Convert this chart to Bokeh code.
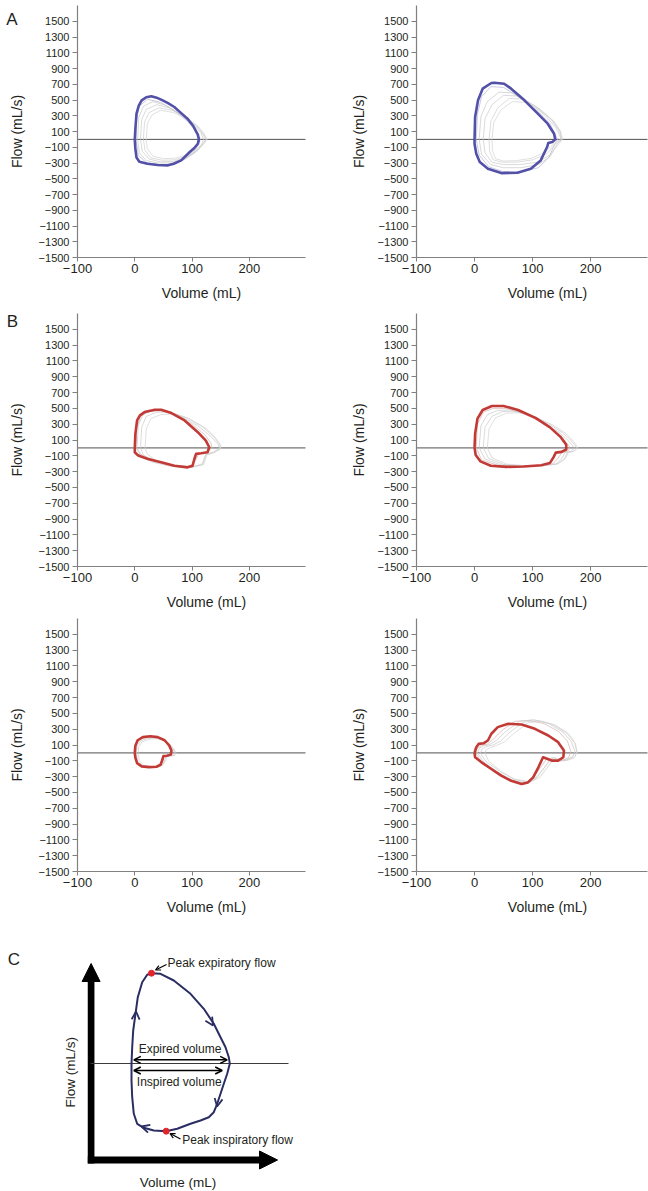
from bokeh.plotting import figure
from bokeh.models import FixedTicker, Label, Arrow, NormalHead, OpenHead, LinearAxis
from bokeh.layouts import column, row
from bokeh.embed import file_html
from bokeh.resources import INLINE
import math

FONT = "Liberation Sans"
TXT = "#231f20"
AXC = "#808080"

# ---------------- tick labels / texts ----------------
x_ticks = [-100, 0, 100, 200]
x_tick_labels = ["\u2212100", "0", "100", "200"]
y_ticks = [1500, 1300, 1100, 900, 700, 500, 300, 100, -100, -300, -500, -700, -900, -1100, -1300, -1500]
y_tick_labels = ["1500", "1300", "1100", "900", "700", "500", "300", "100", "\u2212100", "\u2212300",
                 "\u2212500", "\u2212700", "\u2212900", "\u22121100", "\u22121300", "\u22121500"]
x_label = "Volume (mL)"
y_label = "Flow (mL/s)"

X_RANGE = (-100, 298)
Y_RANGE = (-1500, 1700)

BLUE = "#5350a8"
RED = "#c23a36"

# ---------------- Panel A left ----------------
a1_vol = [0, 1, 3, 7, 12, 20, 29, 38, 46, 58, 69, 80, 92, 102, 110, 112, 110, 104, 96, 81, 68, 58, 40, 22, 8, 3, 1, 0]
a1_flow = [0, 130, 326, 430, 496, 535, 547, 530, 504, 460, 411, 340, 263, 170, 60, 0, -55, -110, -161, -267, -310, -330, -325, -310, -285, -230, -120, 0]
a1_grey_vol = [
    [2, 3, 8, 22, 45, 70, 92, 106, 114, 112, 102, 85, 62, 40, 20, 6, 2],
    [5, 7, 15, 32, 55, 80, 100, 115, 120, 117, 105, 88, 65, 40, 20, 8, 5],
    [10, 12, 20, 38, 60, 85, 105, 118, 124, 120, 108, 90, 68, 45, 25, 13, 10],
    [15, 17, 25, 42, 65, 90, 110, 120, 126, 122, 110, 92, 70, 48, 28, 18, 15],
    [20, 22, 30, 45, 68, 92, 112, 122, 125, 120, 108, 90, 70, 50, 32, 22, 20],
]
a1_grey_flow = [
    [0, 260, 420, 510, 470, 360, 230, 110, 0, -60, -170, -260, -320, -320, -295, -200, 0],
    [0, 280, 420, 480, 430, 320, 200, 90, 0, -60, -170, -250, -300, -300, -270, -170, 0],
    [0, 250, 380, 440, 400, 300, 180, 80, 0, -50, -150, -230, -280, -285, -250, -150, 0],
    [0, 220, 340, 400, 370, 280, 170, 70, 0, -45, -140, -210, -260, -265, -235, -140, 0],
    [0, 200, 310, 370, 340, 260, 150, 60, 0, -40, -130, -200, -240, -245, -215, -120, 0],
]

# ---------------- Panel A right ----------------
a2_vol = [0, 1, 6, 14, 29, 34, 51, 63, 86, 109, 126, 137, 139, 134, 127, 125, 114, 97, 74, 46, 23, 9, 3, 0, 0]
a2_flow = [0, 284, 496, 644, 716, 720, 707, 644, 496, 326, 199, 72, 0, -34, -47, -97, -267, -373, -424, -428, -373, -288, -182, -55, 0]
a2_grey_vol = [
    [3, 5, 12, 28, 50, 80, 110, 130, 143, 138, 128, 110, 80, 50, 25, 8, 3],
    [8, 11, 22, 42, 65, 95, 122, 140, 150, 142, 130, 110, 80, 50, 28, 12, 8],
    [15, 18, 30, 50, 75, 105, 130, 145, 152, 145, 130, 108, 78, 50, 30, 18, 15],
    [25, 28, 40, 60, 85, 112, 135, 148, 150, 140, 125, 100, 72, 48, 32, 26, 25],
    [30, 33, 45, 65, 90, 115, 138, 149, 148, 138, 122, 98, 72, 50, 36, 31, 30],
]
a2_grey_flow = [
    [0, 320, 540, 670, 660, 520, 350, 200, 0, -60, -230, -360, -410, -410, -350, -200, 0],
    [0, 290, 480, 600, 590, 460, 300, 150, 0, -60, -220, -320, -360, -360, -320, -190, 0],
    [0, 260, 440, 560, 550, 420, 270, 120, 0, -55, -200, -290, -320, -320, -290, -170, 0],
    [0, 230, 400, 520, 510, 390, 240, 100, 0, -50, -180, -260, -290, -290, -260, -150, 0],
    [0, 210, 370, 480, 470, 360, 220, 90, 0, -45, -160, -240, -270, -275, -245, -140, 0],
]

# ---------------- Panel B (top left) ----------------
b1_vol = [0, 1, 4, 9, 17, 35, 46, 64, 87, 110, 124, 130, 127, 116, 107, 104, 101, 92, 69, 46, 23, 6, 0, 0]
b1_flow = [0, 178, 347, 411, 453, 483, 483, 441, 347, 199, 93, 8, -55, -68, -76, -140, -225, -246, -225, -182, -140, -97, -55, 0]
b1_grey_vol = [
    [2, 3, 10, 25, 45, 70, 100, 122, 133, 135, 125, 112, 106, 95, 70, 40, 12, 2],
    [4, 6, 14, 30, 52, 80, 110, 132, 145, 148, 138, 124, 118, 100, 65, 30, 10, 4],
    [10, 12, 20, 38, 60, 88, 118, 138, 148, 150, 140, 126, 120, 100, 68, 35, 15, 10],
    [18, 20, 28, 45, 68, 95, 124, 142, 150, 150, 138, 124, 118, 96, 65, 38, 22, 18],
]
b1_grey_flow = [
    [0, 240, 400, 460, 470, 420, 300, 170, 60, 0, -55, -70, -160, -235, -220, -170, -90, 0],
    [0, 280, 420, 470, 470, 400, 280, 150, 50, 0, -50, -80, -200, -245, -235, -180, -100, 0],
    [0, 260, 400, 450, 455, 390, 270, 140, 45, -5, -55, -85, -210, -245, -235, -175, -90, 0],
    [0, 240, 370, 420, 430, 370, 250, 120, 35, -10, -60, -90, -215, -245, -230, -165, -80, 0],
]

# ---------------- Panel B (top right) ----------------
b2_vol = [0, 1, 5, 14, 30, 50, 75, 105, 130, 148, 158, 158, 150, 140, 136, 130, 115, 85, 55, 28, 10, 2, 0]
b2_flow = [0, 180, 370, 480, 530, 530, 480, 380, 260, 140, 40, -20, -50, -60, -120, -190, -220, -235, -240, -225, -170, -90, 0]
b2_grey_vol = [
    [3, 5, 15, 32, 55, 82, 112, 138, 155, 165, 160, 150, 144, 135, 110, 75, 40, 12, 3],
    [8, 11, 22, 40, 62, 90, 120, 145, 162, 172, 166, 156, 150, 140, 115, 80, 45, 18, 8],
    [15, 18, 30, 48, 70, 98, 128, 152, 168, 176, 170, 160, 154, 142, 118, 85, 50, 24, 15],
    [22, 25, 36, 55, 78, 105, 135, 158, 172, 178, 172, 162, 156, 144, 120, 88, 55, 30, 22],
]
b2_grey_flow = [
    [0, 300, 450, 500, 500, 440, 340, 220, 100, 0, -45, -60, -130, -200, -225, -235, -220, -150, 0],
    [0, 280, 420, 475, 480, 420, 320, 200, 90, 0, -45, -60, -140, -205, -225, -232, -215, -140, 0],
    [0, 260, 400, 460, 465, 405, 305, 190, 80, 0, -45, -60, -145, -205, -225, -230, -210, -130, 0],
    [0, 240, 380, 440, 445, 390, 290, 180, 70, 0, -40, -55, -140, -200, -220, -225, -205, -125, 0],
]

# ---------------- Panel B (bottom left) ----------------
b3_vol = [0, 1, 5, 14, 27, 40, 52, 60, 64, 63, 56, 50, 48, 45, 38, 25, 12, 4, 1, 0]
b3_flow = [0, 90, 160, 200, 210, 200, 160, 95, 30, -20, -35, -40, -90, -150, -175, -180, -170, -130, -60, 0]
b3_grey_vol = [
    [1, 2, 8, 18, 32, 45, 56, 63, 66, 64, 57, 51, 49, 46, 38, 25, 12, 3, 1],
    [3, 4, 10, 22, 35, 48, 58, 66, 70, 68, 60, 54, 52, 48, 40, 27, 14, 5, 3],
    [6, 7, 13, 25, 38, 51, 61, 68, 72, 70, 62, 56, 54, 49, 40, 28, 16, 8, 6],
]
b3_grey_flow = [
    [0, 100, 165, 195, 200, 180, 130, 65, 0, -25, -38, -42, -95, -150, -172, -178, -168, -120, 0],
    [0, 90, 150, 185, 190, 170, 120, 60, 0, -30, -40, -45, -100, -155, -175, -178, -165, -110, 0],
    [0, 80, 140, 175, 180, 160, 110, 50, 0, -30, -40, -45, -100, -150, -170, -172, -160, -100, 0],
]

# ---------------- Panel B (bottom right) ----------------
b4_vol = [0, 3, 7, 16, 23, 29, 40, 58, 81, 104, 127, 144, 154, 153, 144, 133, 118, 110, 101, 92, 81, 63, 46, 29, 12, 1, 0]
b4_flow = [0, 72, 114, 123, 157, 242, 326, 369, 360, 305, 220, 136, 30, -55, -97, -97, -55, -182, -309, -373, -394, -352, -288, -203, -119, -55, 0]
b4_grey_vol = [
    [2, 5, 12, 22, 32, 48, 70, 95, 120, 145, 160, 166, 162, 150, 135, 125, 112, 100, 85, 60, 35, 12, 2],
    [5, 8, 15, 26, 38, 55, 78, 102, 128, 152, 167, 173, 168, 155, 142, 132, 120, 106, 90, 65, 40, 16, 5],
    [10, 13, 20, 32, 45, 62, 85, 110, 135, 158, 172, 177, 172, 160, 148, 138, 126, 112, 95, 70, 45, 20, 10],
    [18, 20, 28, 38, 52, 70, 92, 116, 140, 162, 174, 176, 168, 156, 145, 134, 122, 108, 92, 68, 45, 24, 18],
]
b4_grey_flow = [
    [0, 60, 95, 110, 170, 290, 400, 410, 370, 270, 150, 20, -60, -100, -100, -70, -200, -330, -390, -350, -250, -120, 0],
    [0, 55, 90, 105, 160, 280, 400, 420, 370, 265, 140, 15, -60, -100, -95, -65, -190, -320, -385, -345, -245, -115, 0],
    [0, 50, 80, 100, 150, 270, 390, 410, 360, 255, 130, 10, -60, -95, -90, -60, -180, -310, -375, -340, -240, -110, 0],
    [0, 40, 70, 95, 140, 260, 380, 400, 350, 245, 120, 0, -55, -85, -80, -55, -170, -300, -360, -330, -230, -100, 0],
]

# ---------------- Panel C schematic (arbitrary units) ----------------
schem_vol = [151, 160, 173.3, 190, 203.3, 213.3, 220, 225, 228.3, 229.3, 226.7, 223.3, 220, 216.7, 213.3, 208.3,
             200, 190, 176.7, 165.7, 153.3, 143.3, 136.7, 133.3, 131.7, 131, 131, 131.7, 132.7, 135, 137.3, 141.7, 146.7, 151]
schem_flow = [218.3, 217.7, 211, 197.7, 182.7, 167.7, 154.3, 144.3, 134.3, 127.7, 117.7, 107.7, 97.7, 87.7, 79.3, 74.3,
              71, 67.7, 62.7, 60.3, 61, 63.7, 67.7, 77.7, 94.3, 111, 127.7, 144.3, 161, 177.7, 194.3, 209.3, 216.7, 218.3]
schem_peak_vol = [151, 165.7]
schem_peak_flow = [218.3, 60.3]
schem_zero = 128
schem_texts = ["Peak expiratory flow", "Peak inspiratory flow", "Expired volume", "Inspired volume"]


def make_panel(w, h, box, ystand, mv, mf, gv, gf, mcol, gcols, xlab_cx, letter=None, letter_px=None):
    # box = plot-area (left, top, right, bottom) in figure pixels; the frame covers the whole figure
    left, top, right, bottom = box
    sx = (X_RANGE[1] - X_RANGE[0]) / (right - left)
    sy = (Y_RANGE[1] - Y_RANGE[0]) / (bottom - top)
    xr = (X_RANGE[0] - left * sx, X_RANGE[1] + (w - right) * sx)
    yr = (Y_RANGE[0] - (h - bottom) * sy, Y_RANGE[1] + top * sy)

    def to_data(px, py):
        return (xr[0] + px * sx, yr[1] - py * sy)

    p = figure(width=w, height=h, x_range=xr, y_range=yr, output_backend="svg", toolbar_location=None,
               min_border=0, x_axis_location=None, y_axis_location=None)
    p.outline_line_color = None
    p.xgrid.visible = False
    p.ygrid.visible = False
    p.background_fill_color = "white"
    p.border_fill_color = "white"

    xax = LinearAxis(fixed_location=Y_RANGE[0], bounds=X_RANGE, ticker=FixedTicker(ticks=x_ticks),
                     major_label_overrides=dict(zip(x_ticks, x_tick_labels)))
    yax = LinearAxis(fixed_location=X_RANGE[0], bounds=Y_RANGE, ticker=FixedTicker(ticks=y_ticks),
                     major_label_overrides=dict(zip(y_ticks, y_tick_labels)))
    for ax in (xax, yax):
        ax.axis_line_color = AXC
        ax.axis_line_width = 1.2
        ax.major_tick_line_color = AXC
        ax.major_tick_in = 0
        ax.minor_tick_line_color = None
        ax.major_label_text_font = FONT
        ax.major_label_text_color = TXT
    xax.major_tick_out = 4
    xax.major_label_standoff = 2
    xax.major_label_text_font_size = "13px"
    yax.major_tick_out = 5
    yax.major_label_standoff = 3
    yax.major_label_text_font_size = "11px"
    yax.axis_label = y_label
    yax.axis_label_text_font = FONT
    yax.axis_label_text_font_size = "14px"
    yax.axis_label_text_font_style = "normal"
    yax.axis_label_text_color = TXT
    yax.axis_label_standoff = ystand
    p.add_layout(xax, "below")
    p.add_layout(yax, "left")

    # zero-flow reference line across the plot area
    p.line(x=list(X_RANGE), y=[0, 0], line_color="#505050", line_width=1)
    p.multi_line(xs=gv, ys=gf, line_color=gcols, line_width=0.8, line_alpha=0.9)
    p.line(mv, mf, line_color=mcol, line_width=2.6, line_join="round")

    lx, ly = to_data(xlab_cx, bottom + 35)
    p.add_layout(Label(x=lx, y=ly, text=x_label, text_font=FONT, text_font_size="14px", text_color=TXT,
                       text_align="center", text_baseline="middle"))
    if letter is not None:
        tx, ty = to_data(*letter_px)
        p.add_layout(Label(x=tx, y=ty, text=letter, text_font=FONT, text_font_size="17px", text_color=TXT,
                           text_align="center", text_baseline="middle"))
    return p


grey_a = ["#b6b4d8", "#c8c8c8", "#cccccc", "#d0d0d0", "#d4d4d4"]
grey_b = ["#d8b4b4", "#c8c8c8", "#cccccc", "#d2d2d2"]
grey_b3 = ["#d8b4b4", "#c8c8c8", "#d0d0d0"]

pA1 = make_panel(324, 308, (77, 5, 305, 257), 11, a1_vol, a1_flow, a1_grey_vol, a1_grey_flow, BLUE, grey_a, 201, "A", (11.5, 19))
pA2 = make_panel(324, 308, (92, 5, 323, 257), 8, a2_vol, a2_flow, a2_grey_vol, a2_grey_flow, BLUE, grey_a, 223)
pB1 = make_panel(324, 305, (77, 5, 305, 258), 11, b1_vol, b1_flow, b1_grey_vol, b1_grey_flow, RED, grey_b, 206, "B", (12, 13))
pB2 = make_panel(324, 305, (92, 5, 323, 258), 8, b2_vol, b2_flow, b2_grey_vol, b2_grey_flow, RED, grey_b, 223)
pB3 = make_panel(324, 305, (77, 5, 305, 258), 11, b3_vol, b3_flow, b3_grey_vol, b3_grey_flow, RED, grey_b3, 206)
pB4 = make_panel(324, 305, (92, 5, 323, 258), 8, b4_vol, b4_flow, b4_grey_vol, b4_grey_flow, RED, grey_b, 223)

# ---------------- Panel C ----------------
NAVY = "#2a2e62"
c = figure(width=648, height=273, x_range=(0, 648), y_range=(0, 273), output_backend="svg",
           toolbar_location=None, min_border=0, x_axis_location=None, y_axis_location=None)
c.outline_line_color = None
c.xgrid.visible = False
c.ygrid.visible = False
# thick schematic axes
c.segment(x0=[90.6], y0=[28], x1=[90.6], y1=[212], line_color="black", line_width=6.7)
c.segment(x0=[87.3], y0=[31.5], x1=[261], y1=[31.5], line_color="black", line_width=7)
c.add_layout(Arrow(x_start=90.6, y_start=218, x_end=90.6, y_end=228, line_alpha=0,
                   end=NormalHead(size=18, fill_color="black", line_color="black", line_width=1)))
c.add_layout(Arrow(x_start=266, y_start=31.5, x_end=277, y_end=31.5, line_alpha=0,
                   end=NormalHead(size=18, fill_color="black", line_color="black", line_width=1)))
c.segment(x0=[90], y0=[schem_zero], x1=[288], y1=[schem_zero], line_color="#3a3a3a", line_width=1)
c.line(schem_vol, schem_flow, line_color=NAVY, line_width=2, line_join="round")
# direction chevrons
for (xs, ys, xe, ye) in [(135, 170, 135.6, 180), (207.5, 174, 212.5, 166), (218.5, 95, 216.6, 85), (151, 62, 141, 65)]:
    c.add_layout(Arrow(x_start=xs, y_start=ys, x_end=xe, y_end=ye, line_alpha=0,
                       end=OpenHead(size=8, line_color=NAVY, line_width=1.8)))
# volume double arrows
c.add_layout(Arrow(x_start=133.3, y_start=131.7, x_end=226.7, y_end=131.7, line_color="black", line_width=1.5,
                   start=OpenHead(size=7, line_color="black", line_width=1.5),
                   end=OpenHead(size=7, line_color="black", line_width=1.5)))
c.add_layout(Arrow(x_start=133.3, y_start=121, x_end=221.7, y_end=121, line_color="black", line_width=1.5,
                   start=OpenHead(size=7, line_color="black", line_width=1.5),
                   end=OpenHead(size=7, line_color="black", line_width=1.5)))
# pointer arrows
c.add_layout(Arrow(x_start=166, y_start=227, x_end=155, y_end=221.5, line_color="black", line_width=1.2,
                   end=OpenHead(size=5, line_color="black", line_width=1.2)))
c.add_layout(Arrow(x_start=180, y_start=52.5, x_end=169.5, y_end=58, line_color="black", line_width=1.2,
                   end=OpenHead(size=5, line_color="black", line_width=1.2)))
c.scatter(schem_peak_vol, schem_peak_flow, size=6, color="#e3242b")

for txt, x, y, al in [(schem_texts[0], 167, 229, "left"), (schem_texts[1], 181.7, 51.7, "left"),
                      (schem_texts[2], 179.5, 142.7, "center"), (schem_texts[3], 178.7, 109.3, "center")]:
    c.add_layout(Label(x=x, y=y, text=txt, text_font=FONT, text_font_size="12px", text_color=TXT,
                       text_align=al, text_baseline="middle"))
c.add_layout(Label(x=70, y=119.3, text=y_label, angle=math.pi / 2, text_font=FONT, text_font_size="13.5px",
                   text_color=TXT, text_align="center", text_baseline="middle"))
c.add_layout(Label(x=177.5, y=9.3, text=x_label, text_font=FONT, text_font_size="13.5px",
                   text_color=TXT, text_align="center", text_baseline="middle"))
c.add_layout(Label(x=13.5, y=232.5, text="C", text_font=FONT, text_font_size="17px",
                   text_color=TXT, text_align="center", text_baseline="middle"))

layout = column(row(pA1, pA2), row(pB1, pB2), row(pB3, pB4), c)

open("out.html", "w").write(file_html(layout, INLINE))
